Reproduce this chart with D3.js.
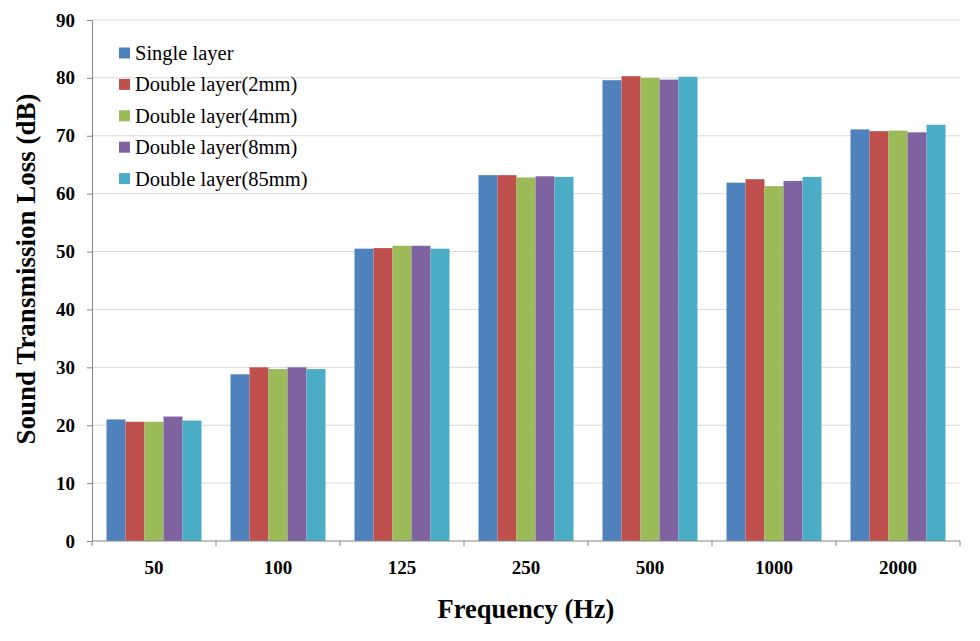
<!DOCTYPE html>
<html><head><meta charset="utf-8">
<script src="https://cdn.jsdelivr.net/npm/d3@7"></script>
<style>body{margin:0;background:#fff;} svg{display:block;} text{font-family:"Liberation Serif","Times New Roman",serif;}</style>
</head><body>
<svg id="c" width="980" height="641"></svg>
<script>
const categories = ["50","100","125","250","500","1000","2000"];
const seriesNames = ["Single layer","Double layer(2mm)","Double layer(4mm)","Double layer(8mm)","Double layer(85mm)"];
const singleLayer = [21.0, 28.8, 50.5, 63.2, 79.6, 61.9, 71.1];
const double2mm  = [20.6, 30.0, 50.6, 63.2, 80.3, 62.5, 70.8];
const double4mm  = [20.6, 29.7, 51.0, 62.8, 80.0, 61.3, 70.9];
const double8mm  = [21.5, 30.0, 51.0, 63.0, 79.7, 62.2, 70.6];
const double85mm = [20.8, 29.7, 50.5, 62.9, 80.2, 62.9, 71.9];
const colors = ["#4F81BD","#C0504D","#9BBB59","#8064A2","#4BACC6"];
const yTicks = [0,10,20,30,40,50,60,70,80,90];

const seriesValues = [singleLayer, double2mm, double4mm, double8mm, double85mm];
const svg = d3.select("#c");
const FF = "Liberation Serif";
const L = 92, R = 960, T = 20, B = 541;

const x0 = d3.scaleBand().domain(categories).range([L, R]).padding(0);
const bw = x0.bandwidth();
const x1 = d3.scaleBand().domain(seriesNames).range([bw*0.117, bw*0.883]).padding(0);
const y = d3.scaleLinear().domain([0, 90]).range([B, T]);

// gridlines
svg.append("g").selectAll("line").data(yTicks.filter(d=>d>0)).join("line")
  .attr("x1", L).attr("x2", R).attr("y1", d=>y(d)).attr("y2", d=>y(d))
  .attr("stroke", "#d9d9d9").attr("stroke-width", 1);

// bars
const g = svg.append("g");
categories.forEach((c, ci) => {
  seriesNames.forEach((s, si) => {
    g.append("rect")
      .attr("x", x0(c) + x1(s))
      .attr("width", x1.bandwidth())
      .attr("y", y(seriesValues[si][ci]))
      .attr("height", B - y(seriesValues[si][ci]))
      .attr("fill", colors[si]);
  });
});

// y axis
const yAxis = d3.axisLeft(y).tickValues(yTicks).tickSize(5).tickPadding(12);
const ya = svg.append("g").attr("transform", `translate(${L},0)`).call(yAxis)
  .attr("font-family", FF);
ya.selectAll("path,line").attr("stroke", "#868686");
ya.selectAll("text").attr("font-size", 19).attr("font-weight", "bold").attr("fill", "#000")
  .attr("font-family", FF);

// x axis
const xa = svg.append("g").attr("transform", `translate(0,${B})`);
xa.append("line").attr("x1", L).attr("x2", R).attr("y1", 0).attr("y2", 0).attr("stroke", "#868686");
const bounds = categories.map(c => x0(c)).concat([R]);
xa.selectAll("line.t").data(bounds).join("line").attr("class","t")
  .attr("x1", d=>d).attr("x2", d=>d).attr("y1", 0).attr("y2", 5).attr("stroke", "#868686");
xa.selectAll("text").data(categories).join("text")
  .attr("x", d => x0(d) + bw/2).attr("y", 33)
  .attr("text-anchor", "middle").attr("font-size", 19).attr("font-weight", "bold")
  .attr("font-family", FF)
  .text(d => d);

// axis titles
svg.append("text").attr("x", 526).attr("y", 618).attr("text-anchor", "middle")
  .attr("font-family", FF)
  .attr("font-size", 26.5).attr("font-weight", "bold").text("Frequency (Hz)");
svg.append("text").attr("transform", "translate(35,269) rotate(-90)").attr("text-anchor", "middle")
  .attr("font-family", FF)
  .attr("font-size", 27).attr("font-weight", "bold").text("Sound Transmission Loss (dB)");

// legend
const lg = svg.append("g");
seriesNames.forEach((s, i) => {
  const yy = 53 + i * 31.4;
  lg.append("rect").attr("x", 119).attr("y", yy - 5.5).attr("width", 11).attr("height", 11).attr("fill", colors[i]);
  lg.append("text").attr("x", 135).attr("y", yy + 7).attr("font-size", 20.5)
    .attr("font-family", FF).text(s);
});
</script>
</body></html>
